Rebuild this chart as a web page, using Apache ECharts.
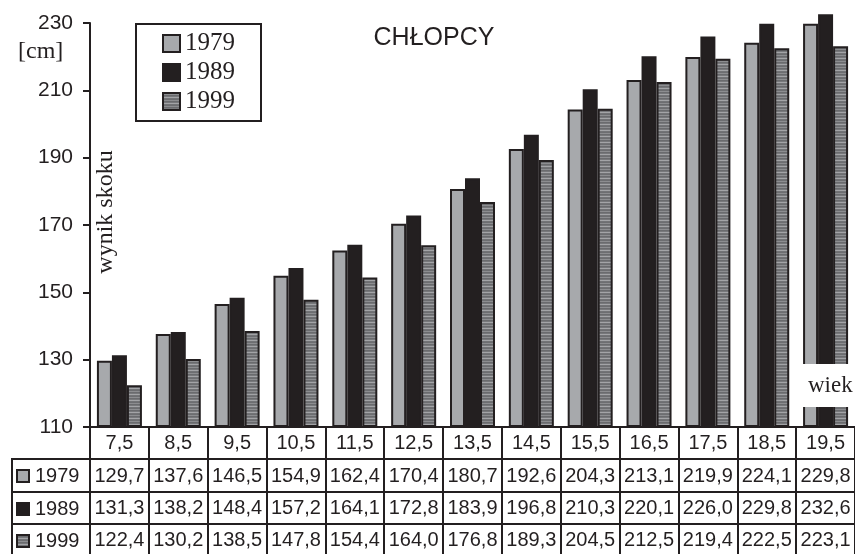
<!DOCTYPE html>
<html>
<head>
<meta charset="utf-8">
<title>CHŁOPCY</title>
<script src="https://cdn.jsdelivr.net/npm/echarts@6/dist/echarts.min.js"></script>
<style>
  html, body { margin: 0; padding: 0; background: #fff; }
  #chart { width: 855px; height: 554px; }
</style>
</head>
<body>
<div id="chart"></div>
<script>
// age groups (x axis)
const ages = [7.5, 8.5, 9.5, 10.5, 11.5, 12.5, 13.5, 14.5, 15.5, 16.5, 17.5, 18.5, 19.5]
const years = ['1979', '1989', '1999']
// jump results [cm]
const jump1979 = [129.7, 137.6, 146.5, 154.9, 162.4, 170.4, 180.7, 192.6, 204.3, 213.1, 219.9, 224.1, 229.8]
const jump1989 = [131.3, 138.2, 148.4, 157.2, 164.1, 172.8, 183.9, 196.8, 210.3, 220.1, 226.0, 229.8, 232.6]
const jump1999 = [122.4, 130.2, 138.5, 147.8, 154.4, 164.0, 176.8, 189.3, 204.5, 212.5, 219.4, 222.5, 223.1]
const yMin = 110
const yMax = 230
const yStep = 20

const ink = '#231f20'
const sans = '"Liberation Sans", Arial, sans-serif'
const serif = '"Liberation Serif", "Times New Roman", serif'

const comma = (v, digits) => v.toFixed(digits).replace('.', ',')

// horizontal stripes for the 1999 bars
function stripePattern () {
  const c = document.createElement('canvas')
  c.width = 4
  c.height = 6
  const ctx = c.getContext('2d')
  const rows = ['#6d6e71', '#8c8d90', '#6a6b6e', '#77787b', '#a3a4a7', '#727376']
  rows.forEach((col, i) => {
    ctx.fillStyle = col
    ctx.fillRect(0, i, 4, 1)
  })
  return c
}
const stripes = { image: stripePattern(), repeat: 'repeat' }
const fills = ['#a7a9ac', ink, stripes]
const tableRows = [jump1979, jump1989, jump1999]

// one x axis per table row, only lines and cell borders (text is added below)
function rowAxis (offset, tickLen) {
  return {
    type: 'category',
    data: ages,
    position: 'bottom',
    offset: offset,
    axisLine: { show: true, lineStyle: { color: ink, width: 2 } },
    axisTick: { show: true, interval: 0, length: tickLen, lineStyle: { color: ink, width: 2 } },
    axisLabel: { show: false },
    splitLine: { show: false }
  }
}

const rowOffsets = [0, 32, 65, 97]
const rowTicks = [32, 33, 32, 40]
const xAxes = rowOffsets.map((o, r) => rowAxis(o, rowTicks[r]))

const graphic = []
// left column of the table
const rowTop = [459, 492, 524]
rowTop.forEach((y, r) => {
  graphic.push({ type: 'line', shape: { x1: 12, y1: y, x2: 90, y2: y }, style: { stroke: ink, lineWidth: 2 } })
  const mid = y + 17
  graphic.push({ type: 'rect', shape: { x: 17, y: mid - 6, width: 12, height: 12 }, style: { fill: fills[r], stroke: ink, lineWidth: 2 } })
  graphic.push({ type: 'text', x: 35, y: mid, style: { text: years[r], fontSize: 20, fontFamily: sans, fill: ink, verticalAlign: 'middle' } })
})
graphic.push({ type: 'line', shape: { x1: 12, y1: 458, x2: 12, y2: 560 }, style: { stroke: ink, lineWidth: 2 } })
graphic.push({ type: 'text', x: 18, y: 52, style: { text: '[cm]', fontSize: 24, fontFamily: serif, fill: ink, verticalAlign: 'middle' } })
graphic.push({ type: 'text', x: 106, y: 212, rotation: Math.PI / 2, style: { text: 'wynik skoku', fontSize: 24, fontFamily: serif, fill: ink, align: 'center', verticalAlign: 'middle' } })
graphic.push({ type: 'text', x: 434, y: 38, style: { text: 'CHŁOPCY', fontSize: 25, fontFamily: sans, fill: ink, align: 'center', verticalAlign: 'middle' } })
// "wiek" label sits on a white patch over the last bars
graphic.push({ type: 'rect', z: 100, shape: { x: 803, y: 364, width: 60, height: 43 }, style: { fill: '#fff' } })
graphic.push({ type: 'text', z: 101, x: 808, y: 386, style: { text: 'wiek', fontSize: 23, fontFamily: serif, fill: ink, verticalAlign: 'middle' } })

const series = years.map((name, i) => ({
  name: name,
  type: 'bar',
  data: tableRows[i],
  barWidth: 15,
  barGap: '0%',
  clip: false,
  itemStyle: { color: fills[i], borderColor: ink, borderWidth: 2 },
  emphasis: { disabled: true }
}))

const chart = echarts.init(document.getElementById('chart'))
chart.setOption({
  animation: false,
  grid: { left: 90, top: 23, width: 767, height: 404 },
  legend: {
    data: years,
    orient: 'vertical',
    left: 136,
    top: 24,
    icon: 'rect',
    itemWidth: 17,
    itemHeight: 17,
    itemGap: 4,
    padding: [7, 26, 7, 26],
    borderColor: ink,
    borderWidth: 2,
    backgroundColor: '#fff',
    textStyle: { fontFamily: serif, fontSize: 25, color: ink }
  },
  xAxis: xAxes,
  yAxis: {
    type: 'value',
    min: yMin,
    max: yMax,
    startValue: yMin,
    interval: yStep,
    axisLine: { show: true, lineStyle: { color: ink, width: 2 } },
    axisTick: { show: true, length: 7, lineStyle: { color: ink, width: 2 } },
    axisLabel: { margin: 17, color: ink, fontSize: 21, fontFamily: sans },
    splitLine: { show: false }
  },
  series: series
})

// table text: centred on each category through the x scale
const rowMid = [443, 476, 508, 540]
ages.forEach((a, i) => {
  const x = chart.convertToPixel({ xAxisIndex: 0 }, i)
  const cells = [comma(a, 1)].concat(tableRows.map(arr => comma(arr[i], 1)))
  cells.forEach((t, r) => {
    graphic.push({ type: 'text', x: x, y: rowMid[r], style: { text: t, fontSize: 20, fontFamily: sans, fill: ink, align: 'center', verticalAlign: 'middle' } })
  })
})
chart.setOption({ graphic: graphic })
</script>
</body>
</html>
